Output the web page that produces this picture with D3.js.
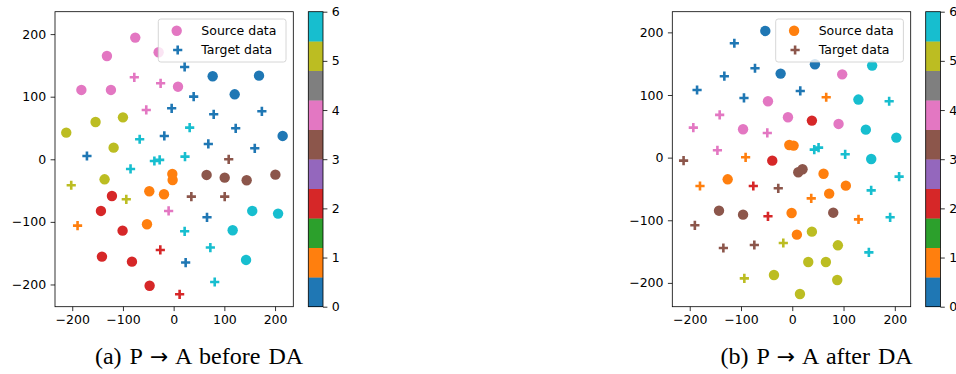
<!DOCTYPE html>
<html>
<head>
<meta charset="utf-8">
<script src="https://cdn.jsdelivr.net/npm/d3@7"></script>
<style>
  html, body { margin: 0; padding: 0; background: #fff; }
  svg { display: block; }
  .tick text { font-family: "DejaVu Sans", sans-serif; font-size: 12.5px; fill: #000; }
  .tick line { stroke: #000; stroke-width: 0.8; }
</style>
</head>
<body>
<svg id="chart" width="956" height="374"></svg>
<script>
// t-SNE embeddings, each point is [x, y, class]
const beforeSource = [
  [-75.7, 194.4, 4], [-131.6, 165, 4], [-29.6, 171, 4], [-182, 110.8, 4], [-123.7, 110.8, 4], [8.6, 116, 4],
  [-211.8, 42.6, 5], [-154, 59.6, 5], [-100, 67, 5], [-118.4, 18.6, 5], [-136.2, -32, 5],
  [77, 132.6, 0], [168.4, 133.6, 0], [120.4, 103.8, 0], [215, 37.3, 0],
  [155, -82.5, 6], [206, -86.8, 6], [116.4, -113.4, 6], [142.8, -160.8, 6],
  [65, -25, 3], [100.7, -29.3, 3], [144, -33.5, 3], [200.7, -24.5, 3],
  [-2.6, -23.4, 1], [-2, -33, 1], [-48, -51, 1], [-19, -55.9, 1], [-52.6, -103.8, 1],
  [-121.7, -58.6, 2], [-143.4, -82.5, 2], [-100.7, -114, 2], [-141.4, -155.5, 2], [-82.2, -163.5, 2], [-47.4, -202, 2]
];
const beforeTarget = [
  [21.7, 147.5, 0], [39.5, 100.1, 0], [-3.9, 81.5, 0], [79, 71.9, 0], [174, 76.7, 0], [122.4, 49.5, 0],
  [-18.4, 37.3, 0], [68.4, 24.5, 0], [160, 17.6, 0], [-171, 5.3, 0], [65.8, -92.7, 0], [23.7, -165, 0],
  [-77.6, 131, 4], [-25.7, 121.4, 4], [-54, 78.8, 4], [-9.9, -82.5, 4],
  [31.6, 50.6, 6], [-67, 32, 6], [-85, -15.4, 6], [-38, -2.7, 6], [-27.6, -1, 6], [22.4, 4.3, 6],
  [21.7, -115, 6], [72.4, -141, 6], [81, -196, 6],
  [108.6, 0, 3], [34.9, -59.6, 3], [100.7, -59.6, 3],
  [-202, -41.5, 5], [-93.4, -63.9, 5],
  [-189.5, -106, 1],
  [-26.3, -144.8, 2], [11.8, -215.7, 2]
];
const afterSource = [
  [-5.8, 20.2, 1], [2.6, 19.2, 1], [61, -25.8, 1], [-126, -34.6, 1], [104.5, -44.7, 1], [72, -57.5, 1], [-1.3, -88.4, 1], [9, -123, 1],
  [-52.6, 202.3, 0], [-22.7, 134.2, 0], [44.2, 149.1, 0],
  [97.4, 133, 4], [-47.4, 90, 4], [-8.4, 64.4, 4], [-96, 45.3, 4], [90.3, 53.8, 4],
  [155.8, 147, 6], [129, 92.7, 6], [143.5, 44.7, 6], [203, 32, 6], [154, -2.1, 6],
  [38.3, 59.1, 2], [-39, -4.8, 2],
  [11.7, -23.4, 3], [20, -18.6, 3], [-142.9, -84.7, 3], [-96, -91, 3], [79.9, -87.9, 3],
  [38.3, -118.2, 5], [89, -140, 5], [31.2, -166.7, 5], [65.6, -166.7, 5], [-35.7, -187.4, 5], [87.7, -195.4, 5], [15, -217.8, 5]
];
const afterTarget = [
  [-212, -4.8, 3], [-27.3, -49, 3], [-190, -108, 3], [-134.4, -144.3, 3], [-74, -139.5, 3],
  [-113, 182.6, 0], [-72.7, 142.7, 0], [-132.5, 130, 0], [-185.7, 108, 0], [-94.2, 95.3, 0], [15.6, 106.5, 0],
  [-141.6, 68.2, 4], [-193, 47.9, 4], [-48.7, 39.4, 4], [-146, 11.7, 4],
  [189, 90, 6], [51.3, 16, 6], [42.9, 12.8, 6], [103.2, 5.3, 6], [208.4, -30.4, 6], [153.9, -52.2, 6], [190.9, -95.3, 6], [149.4, -151.2, 6],
  [-76, -45.3, 2], [-47.4, -93.7, 2],
  [66.2, 96.4, 1], [-91, 0.5, 1], [-180, -45.3, 1], [37, -65, 1], [129.2, -98.5, 1],
  [-17.5, -136.3, 5], [-93.5, -192.8, 5]
];

const xTicks = [-200, -100, 0, 100, 200];
const yTicks = [-200, -100, 0, 100, 200];
const colorbarTicks = [0, 1, 2, 3, 4, 5, 6];
const legendLabels = ["Source data", "Target data"];
// caption pieces: prefix, arrow, suffix
const captions = [["(a) P ", "\u2192", " A before DA"], ["(b) P ", "\u2192", " A after DA"]];

// tab10 colormap normalised over the class range 0..6
const tab10 = d3.schemeCategory10;
const vmin = 0, vmax = 6;
const classColor = c => {
  const t = (c - vmin) / (vmax - vmin);
  return tab10[Math.min(9, Math.floor(t * 10))];
};
const fmt = d => (d < 0 ? "\u2212" + Math.abs(d) : String(d));

const svg = d3.select("#chart");
svg.append("rect").attr("width", 956).attr("height", 374).attr("fill", "#fff");

const panels = [
  { source: beforeSource, target: beforeTarget, caption: captions[0],
    left: 55, right: 293.3, xDomain: [-234, 236], yDomain: [-235.5, 235.8], captionX: 199 },
  { source: afterSource, target: afterTarget, caption: captions[1],
    left: 672.3, right: 910.7, xDomain: [-234, 231], yDomain: [-238, 233], captionX: 816.5 }
];
const plotTop = 11.7, plotBottom = 306.7;
const plusPath = "M-4.6,0H4.6M0,-4.6V4.6";

panels.forEach(p => {
  const x = d3.scaleLinear().domain(p.xDomain).range([p.left, p.right]);
  const y = d3.scaleLinear().domain(p.yDomain).range([plotBottom, plotTop]);
  const g = svg.append("g");

  // axes
  const ax = g.append("g").attr("transform", `translate(0,${plotBottom})`)
    .call(d3.axisBottom(x).tickValues(xTicks).tickFormat(fmt).tickSize(4.4).tickPadding(3.6).tickSizeOuter(0));
  const ay = g.append("g").attr("transform", `translate(${p.left},0)`)
    .call(d3.axisLeft(y).tickValues(yTicks).tickFormat(fmt).tickSize(4.4).tickPadding(4.4).tickSizeOuter(0));
  ax.select(".domain").remove();
  ay.select(".domain").remove();
  ax.selectAll("text").attr("font-family", null).attr("font-size", null);
  ay.selectAll("text").attr("font-family", null).attr("font-size", null);

  // source points as circles
  g.append("g").selectAll("circle").data(p.source).join("circle")
    .attr("cx", d => x(d[0])).attr("cy", d => y(d[1])).attr("r", 5.2)
    .attr("fill", d => classColor(d[2]));

  // target points as plus markers
  g.append("g").selectAll("path").data(p.target).join("path")
    .attr("d", plusPath)
    .attr("transform", d => `translate(${x(d[0])},${y(d[1])})`)
    .attr("stroke", d => classColor(d[2])).attr("stroke-width", 2.6).attr("fill", "none");

  // frame
  g.append("rect").attr("x", p.left).attr("y", plotTop)
    .attr("width", p.right - p.left).attr("height", plotBottom - plotTop)
    .attr("fill", "none").attr("stroke", "#000").attr("stroke-width", 0.8);

  // legend
  const lx = p.right - 135, ly = plotTop + 7.3;
  const lg = g.append("g");
  lg.append("rect").attr("x", lx).attr("y", ly).attr("width", 127.7).attr("height", 43)
    .attr("rx", 2.5).attr("fill", "#fff").attr("fill-opacity", 0.8)
    .attr("stroke", "#cccccc").attr("stroke-width", 0.8);
  lg.append("circle").attr("cx", lx + 18.4).attr("cy", ly + 11.7).attr("r", 5.2)
    .attr("fill", classColor(p.source[0][2]));
  lg.append("path").attr("d", plusPath)
    .attr("transform", `translate(${lx + 19.4},${ly + 31})`)
    .attr("stroke", classColor(p.target[0][2])).attr("stroke-width", 2.6);
  legendLabels.forEach((t, i) => {
    lg.append("text").attr("x", lx + 43).attr("y", ly + 11.5 + i * 19.3)
      .attr("dominant-baseline", "central")
      .attr("font-family", "DejaVu Sans, sans-serif").attr("font-size", 12.5)
      .text(t);
  });

  // colorbar
  const cbLeft = p.right + 15, cbWidth = 14.7;
  const cy = d3.scaleLinear().domain([vmin, vmax]).range([plotBottom, plotTop]);
  const bands = d3.range(10).map(i => [vmin + i * (vmax - vmin) / 10, vmin + (i + 1) * (vmax - vmin) / 10, i]);
  g.append("g").selectAll("rect").data(bands).join("rect")
    .attr("x", cbLeft).attr("width", cbWidth)
    .attr("y", d => cy(d[1])).attr("height", d => cy(d[0]) - cy(d[1]) + 0.3)
    .attr("fill", d => tab10[d[2]]);
  g.append("rect").attr("x", cbLeft).attr("y", plotTop).attr("width", cbWidth).attr("height", plotBottom - plotTop)
    .attr("fill", "none").attr("stroke", "#000").attr("stroke-width", 0.8);
  const cax = g.append("g").attr("transform", `translate(${cbLeft + cbWidth},0)`)
    .call(d3.axisRight(cy).tickValues(colorbarTicks).tickFormat(fmt).tickSize(4.4).tickPadding(4.4).tickSizeOuter(0));
  cax.select(".domain").remove();
  cax.selectAll("text").attr("font-family", null).attr("font-size", null);

  // caption
  const cap = svg.append("text").attr("x", p.captionX).attr("y", 364)
    .attr("text-anchor", "middle").attr("word-spacing", 2)
    .attr("font-family", "Liberation Serif, Times New Roman, serif").attr("font-size", 24);
  cap.append("tspan").text(p.caption[0]);
  cap.append("tspan").attr("font-family", "DejaVu Sans, sans-serif").attr("font-size", 22).text(p.caption[1]);
  cap.append("tspan").text(p.caption[2]);
});
</script>
</body>
</html>
